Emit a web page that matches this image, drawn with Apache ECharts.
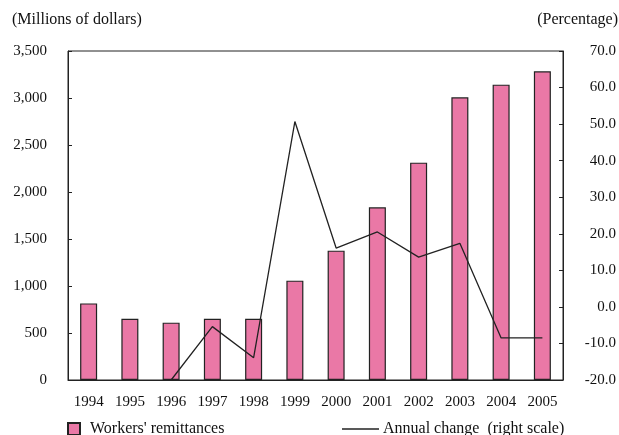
<!DOCTYPE html>
<html>
<head>
<meta charset="utf-8">
<script src="https://cdn.jsdelivr.net/npm/echarts@6/dist/echarts.min.js"></script>
<style>
  html, body { margin: 0; padding: 0; background: #fff; }
  #chart { width: 619px; height: 435px; }
</style>
</head>
<body>
<div id="chart"></div>
<script>
// Years on the category axis
const years = ['1994', '1995', '1996', '1997', '1998', '1999', '2000', '2001', '2002', '2003', '2004', '2005'];
// Workers' remittances, millions of dollars (left scale)
const remittances = [815, 652, 610, 652, 652, 1057, 1376, 1837, 2312, 3007, 3142, 3284];
// Annual change, percent (right scale)
const annualChange = [null, null, -20.0, -5.4, -13.9, 50.7, 16.1, 20.5, 13.6, 17.4, -8.5, -8.5];
// Axis ranges
const leftAxis = { min: 0, max: 3500, step: 500 };
const rightAxis = { min: -20, max: 70, step: 10 };

const FONT = "'Liberation Serif', 'Times New Roman', serif";
const TEXT = { color: '#111', fontFamily: FONT, fontSize: 15 };
const BIG = { color: '#111', fontFamily: FONT, fontSize: 16 };

const chart = echarts.init(document.getElementById('chart'), null, { renderer: 'canvas' });
chart.setOption({
  animation: false,
  backgroundColor: '#ffffff',
  textStyle: TEXT,
  grid: {
    left: 68, right: 56, top: 51, bottom: 55,
    show: true, borderColor: '#222', borderWidth: 1, backgroundColor: 'transparent'
  },
  graphic: [
    { type: 'text', left: 12, top: 12, style: { text: '(Millions of dollars)', fill: '#111', font: '16px ' + FONT } },
    { type: 'text', right: 1, top: 12, style: { text: '(Percentage)', fill: '#111', font: '16px ' + FONT } }
  ],
  legend: [
    {
      data: [{ name: "Workers' remittances", icon: 'rect' }],
      left: 67, top: 421, padding: 0, itemWidth: 12, itemHeight: 12,
      textStyle: Object.assign({}, BIG, { padding: [0, 0, 0, 5] })
    },
    {
      data: [{ name: 'Annual change  (right scale)', icon: 'rect', itemStyle: { color: '#222', borderWidth: 0 } }],
      left: 342, top: 421, padding: 0, itemWidth: 37, itemHeight: 1.4,
      textStyle: Object.assign({}, BIG, { padding: [0, 0, 0, -1] })
    }
  ],
  xAxis: {
    type: 'category',
    data: years,
    boundaryGap: true,
    axisLine: { lineStyle: { color: '#222', width: 1 } },
    axisTick: { inside: true, length: 6, lineStyle: { color: '#222' } },
    axisLabel: Object.assign({}, TEXT, { margin: 15 }),
    splitLine: { show: false }
  },
  yAxis: [
    {
      type: 'value',
      min: leftAxis.min, max: leftAxis.max, interval: leftAxis.step,
      axisLine: { show: true, lineStyle: { color: '#222', width: 1 } },
      axisTick: { show: true, inside: true, length: 4, lineStyle: { color: '#222' } },
      axisLabel: Object.assign({}, TEXT, { margin: 21, formatter: v => v.toLocaleString('en-US') }),
      splitLine: { show: false }
    },
    {
      type: 'value',
      position: 'right',
      min: rightAxis.min, max: rightAxis.max, interval: rightAxis.step,
      axisLine: { show: true, lineStyle: { color: '#222', width: 1 } },
      axisTick: { show: true, inside: true, length: 4, lineStyle: { color: '#222' } },
      axisLabel: Object.assign({}, TEXT, { margin: 53, align: 'right', formatter: v => v.toFixed(1) }),
      splitLine: { show: false }
    }
  ],
  series: [
    {
      name: "Workers' remittances",
      type: 'bar',
      yAxisIndex: 0,
      data: remittances,
      barWidth: 17,
      itemStyle: { color: '#EA78A6', borderColor: '#222', borderWidth: 1.2 }
    },
    {
      name: 'Annual change  (right scale)',
      type: 'line',
      yAxisIndex: 1,
      data: annualChange,
      showSymbol: false,
      symbol: 'none',
      connectNulls: false,
      lineStyle: { color: '#222', width: 1.3 },
      itemStyle: { color: '#222' }
    }
  ]
});
</script>
</body>
</html>
